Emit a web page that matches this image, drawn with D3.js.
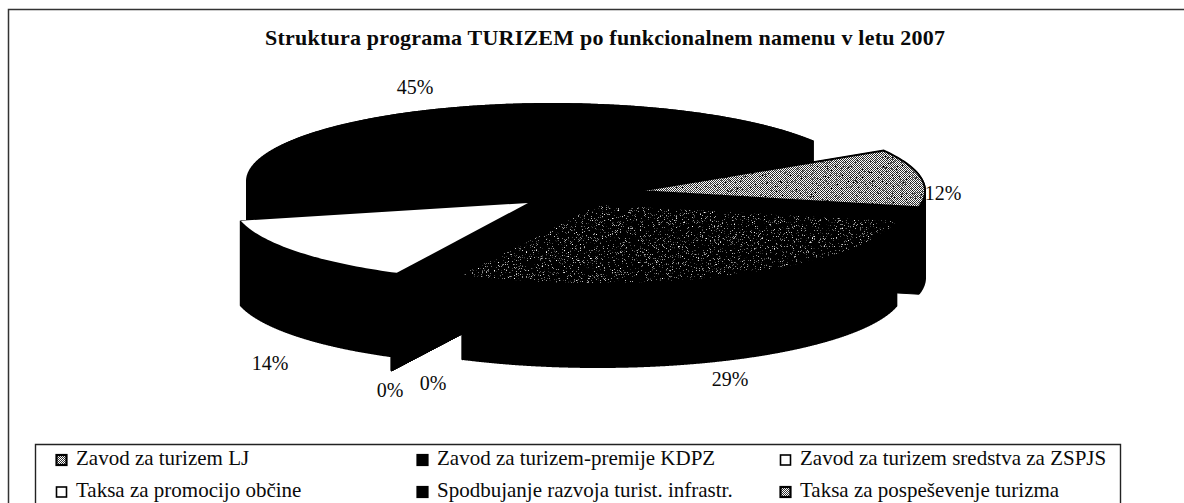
<!DOCTYPE html>
<html><head><meta charset="utf-8">
<style>html,body{margin:0;padding:0;background:#fff}svg{display:block}text{font-family:"Liberation Serif",serif;fill:#0a0a0a}</style>
<script src="https://cdn.jsdelivr.net/npm/d3@7"></script>
</head><body><script>
const title = "Struktura programa TURIZEM po funkcionalnem namenu v letu 2007";
const categories = ["Zavod za turizem LJ","Zavod za turizem-premije KDPZ","Zavod za turizem sredstva za ZSPJS","Taksa za promocijo občine","Spodbujanje razvoja turist. infrastr.","Taksa za pospeševenje turizma"];
const shares = [29,0,0,14,45,12];
const legendOrder = [0,1,2,3,4,5];

const W=1184,H=503;
// layout (pixels), separate from the data
const firstSliceDeg=102, ry=78;
const sliceLayout=[
 {ax:598,ay:205,rx:305,h:85,face:"dark"},
 {ax:525,ay:216,rx:300,h:85,face:"#000"},
 {ax:525,ay:216,rx:300,h:85,face:"#000"},
 {ax:528,ay:203,rx:295,h:85,face:"#fff"},
 {ax:552,ay:181,rx:305,h:85,face:"#000"},
 {ax:639,ay:191,rx:286,h:87,face:"light"}];
const labelPos=[[730,379],[433,383],[390,390],[270,363],[415,87],[943,193]];
const paintOrder=[4,5,3,2,1,0];

const svg=d3.select("body").append("svg").attr("width",W).attr("height",H);
const defs=svg.append("defs");
function noise(id,k,b,seed,color,freq){
  const f=defs.append("filter").attr("id",id).attr("x",0).attr("y",0).attr("width",1).attr("height",1)
    .attr("color-interpolation-filters","sRGB");
  f.append("feTurbulence").attr("type","fractalNoise").attr("baseFrequency",freq).attr("numOctaves",2).attr("seed",seed).attr("result","n");
  f.append("feColorMatrix").attr("in","n").attr("type","matrix")
    .attr("values",`0 0 0 0 ${color} 0 0 0 0 ${color} 0 0 0 0 ${color} ${k} 0 0 0 ${b}`).attr("result","m");
  f.append("feComposite").attr("in","m").attr("in2","SourceAlpha").attr("operator","in");
}
noise("specWhite",6,-3.7,4,1,1.5);
noise("specBlack",6,-3.6,9,0,1.2);
const chk=defs.append("pattern").attr("id","checker").attr("width",2).attr("height",2).attr("patternUnits","userSpaceOnUse");
chk.append("rect").attr("width",2).attr("height",2).attr("fill","#fff");
chk.append("rect").attr("width",1).attr("height",1).attr("fill","#333");
chk.append("rect").attr("x",1).attr("y",1).attr("width",1).attr("height",1).attr("fill","#333");

// frame
const frame=d3.path();frame.moveTo(8.5,H);frame.lineTo(8.5,9.5);frame.lineTo(W,9.5);
svg.append("path").attr("d",frame.toString()).attr("fill","none").attr("stroke","#333").attr("stroke-width",1.5);

svg.append("text").attr("x",605).attr("y",45).attr("text-anchor","middle").attr("font-weight","bold").attr("font-size",22).attr("textLength",680).attr("lengthAdjust","spacing").text(title);

const pie=d3.pie().sort(null).value(d=>d)
  .startAngle(firstSliceDeg*Math.PI/180).endAngle((firstSliceDeg+360)*Math.PI/180);
const arcs=pie(shares);
const line=d3.line();
function pt(l,t,dy=0){return [l.ax+l.rx*Math.sin(t),l.ay-ry*Math.cos(t)+dy];}
function arcPts(l,a,b,step=0.02){const n=Math.max(2,Math.ceil(Math.abs(b-a)/step));
  return d3.range(n+1).map(i=>pt(l,a+(b-a)*i/n));}
function topFace(l,a,b){return line([[l.ax,l.ay],...arcPts(l,a,b)])+"Z";}

const g=svg.append("g");
paintOrder.forEach(i=>{
  const l=sliceLayout[i],a=arcs[i].startAngle,b=arcs[i].endAngle;
  const k=g.append("g").attr("class","slice");
  // outer wall: vertical rulings from the rim down
  const wall=d3.path();
  arcPts(l,a,b,0.003).forEach(p=>{wall.moveTo(p[0],p[1]);wall.lineTo(p[0],p[1]+l.h);});
  k.append("path").attr("d",wall.toString()).attr("fill","none").attr("stroke","#000").attr("stroke-width",2);
  // cut faces
  [a,b].forEach(t=>{const r=pt(l,t);
    k.append("path").attr("d",line([[l.ax,l.ay],r,[r[0],r[1]+l.h],[l.ax,l.ay+l.h]])+"Z").attr("fill","#000").attr("stroke","#000");});
  if(b-a<1e-6) return;
  const d=topFace(l,a,b);
  if(l.face==="dark"){
    k.append("path").attr("d",d).attr("fill","#000");
    k.append("path").attr("d",d).attr("fill","#000").attr("filter","url(#specWhite)");
  } else if(l.face==="light"){
    k.append("path").attr("d",d).attr("fill","url(#checker)").attr("stroke","#000").attr("stroke-width",2);
    k.append("path").attr("d",d).attr("fill","#000").attr("filter","url(#specBlack)");
  } else {
    k.append("path").attr("d",d).attr("fill",l.face);
  }
});

// percent labels
svg.append("g").selectAll("text").data(arcs).join("text")
  .attr("x",(d,i)=>labelPos[i][0]).attr("y",(d,i)=>labelPos[i][1]).attr("dy","0.35em")
  .attr("text-anchor","middle").attr("font-size",20).text(d=>d.value+"%");

// legend
svg.append("path").attr("d",line([[35.5,H],[35.5,444.5],[1120.5,444.5],[1120.5,H]])).attr("fill","none").attr("stroke","#222").attr("stroke-width",1.4);
const colX=d3.scaleOrdinal().domain([0,1,2]).range([56,417,780]);
const rowY=d3.scaleOrdinal().domain([0,1]).range([465,497]);
const swatchFill=["url(#checker)","#000","#fff","#fff","#000","url(#checker)"];
const lg=svg.append("g").selectAll("g").data(legendOrder).join("g")
  .attr("transform",i=>`translate(${colX(i%3)},${rowY(Math.floor(i/3))})`);
lg.append("rect").attr("x",.5).attr("y",-10).attr("width",10).attr("height",10)
  .attr("fill",i=>swatchFill[i]).attr("stroke","#000").attr("stroke-width",i=>swatchFill[i]==="#fff"?1.6:2.2);
lg.append("text").attr("x",20).attr("y",0).attr("font-size",21).text(i=>categories[i]);
</script></body></html>
